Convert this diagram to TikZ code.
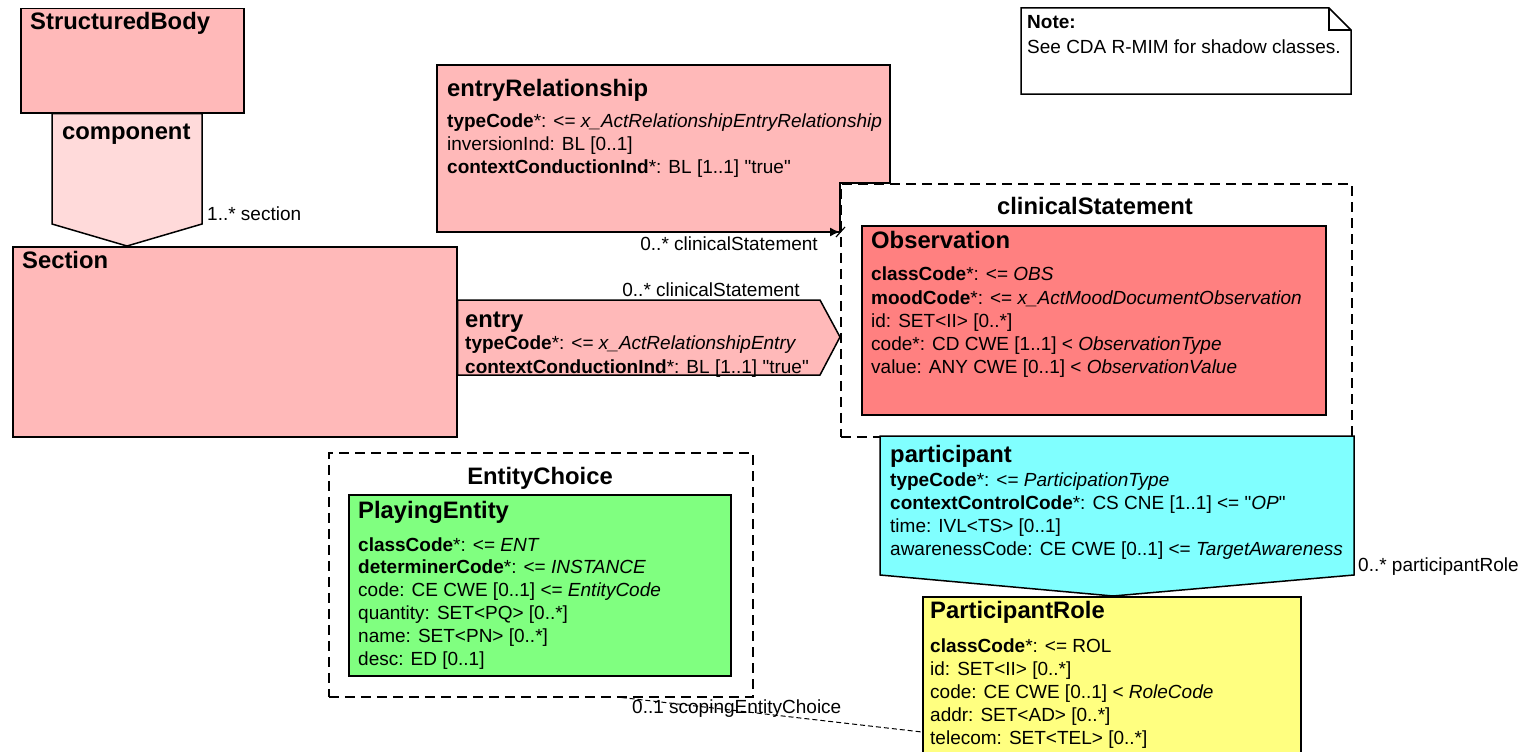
\documentclass[tikz,border=0pt]{standalone}
\usepackage{fontspec}
\setmainfont{Liberation Sans}[Ligatures=TeXOff]
\usetikzlibrary{calc,arrows.meta}

\definecolor{actpink}{RGB}{255,185,185}
\definecolor{relpink}{RGB}{255,218,218}
\definecolor{obsred}{RGB}{255,128,128}
\definecolor{partcyan}{RGB}{128,255,255}
\definecolor{roleyellow}{RGB}{255,255,128}
\definecolor{entgreen}{RGB}{128,255,128}

\newcommand{\dq}{\symbol{34}}

\tikzset{
  classbox/.style={draw, line width=1.5pt, rectangle, inner sep=0pt, anchor=north west},
  choicebox/.style={draw, line width=1.5pt, dash pattern=on 10pt off 6pt, rectangle, inner sep=0pt, anchor=north west},
  shapeline/.style={draw, line width=1.5pt, line join=miter},
  ttl/.style={anchor=base west, inner sep=0pt, font=\fontsize{23.8}{28}\selectfont\bfseries},
  ctitle/.style={anchor=base, inner sep=0pt, font=\fontsize{23.8}{28}\selectfont\bfseries},
  txt/.style={anchor=base west, inner sep=0pt, font=\fontsize{19}{23}\selectfont},
  rtxt/.style={anchor=base east, inner sep=0pt, font=\fontsize{19}{23}\selectfont},
}

\begin{document}
\begin{tikzpicture}[x=1pt,y=-1pt]
\useasboundingbox (0,0) rectangle (1521,752);

% ---------- StructuredBody and its component relationship ----------
\node[classbox, fill=actpink, minimum width=223pt, minimum height=104pt] (sb) at (20,8) {};
\node[ttl] (sbt) at (30,30) {StructuredBody};

\node[classbox, fill=actpink, minimum width=444pt, minimum height=190pt] (sec) at (12,246) {};
\node[ttl] (sect) at (22,268) {Section};

\coordinate (cmpTL) at ($(sb.south west)+(32,0)$);
\coordinate (cmpTR) at ($(sb.south west)+(182,0)$);
\coordinate (cmpTip) at ($(sec.north west)+(115,0)$);
\path[shapeline, fill=relpink] (cmpTL) -- (cmpTR) -- (202,224) -- (cmpTip) -- (52,224) -- cycle;
\node[ttl] (cmpt) at (62,139) {component};
\node[txt] (cmpm) at (207,220) {1..* section};

% ---------- entryRelationship (recursive, to clinicalStatement) ----------
\node[choicebox, minimum width=511pt, minimum height=253pt] (cs) at (840,183) {};
\node[ctitle] (cst) at (1095,214) {clinicalStatement};

\path[shapeline, fill=actpink] (437,65) -- (890,65) -- (890,183) -- (cs.north west) -- (840,232) -- (437,232) -- cycle;
\coordinate (erEnd) at (cs.west |- 0,232);
\draw[line width=1.5pt, -{Latex[length=10pt,width=9pt]}] (800,232) -- (erEnd);
\draw[line width=1.2pt] ($(erEnd)+(-4,5)$) -- ($(erEnd)+(5,-5)$);
\node[ttl] (ert) at (447,96) {entryRelationship};
\node[txt] (er1) at (447,127) {\textbf{typeCode}*: <= \textit{x\_ActRelationshipEntryRelationship}};
\node[txt] (er2) at (447,150) {inversionInd: BL [0..1]};
\node[txt] (er3) at (447,173) {\textbf{contextConductionInd}*: BL [1..1] \dq true\dq};
\node[rtxt] (erm) at (818,250) {0..* clinicalStatement};

% ---------- entry ----------
\coordinate (enTip) at (cs.west |- 0,337);
\path[shapeline, fill=actpink] (sec.east |- 0,300) -- (820,300) -- (enTip) -- (820,375) -- (sec.east |- 0,375) -- cycle;
\node[ttl] (ent) at (465,327) {entry};
\node[txt] (en1) at (465,349) {\textbf{typeCode}*: <= \textit{x\_ActRelationshipEntry}};
\node[txt] (en2) at (465,373) {\textbf{contextConductionInd}*: BL [1..1] \dq true\dq};
\node[rtxt] (enm) at (800,296) {0..* clinicalStatement};

% ---------- Observation ----------
\node[classbox, fill=obsred, minimum width=464pt, minimum height=189pt] (obs) at (861,225) {};
\node[ttl] (obst) at (871,248) {Observation};
\node[txt] (ob1) at (871,280) {\textbf{classCode}*: <= \textit{OBS}};
\node[txt] (ob2) at (871,304) {\textbf{moodCode}*: <= \textit{x\_ActMoodDocumentObservation}};
\node[txt] (ob3) at (871,327) {id: SET<II> [0..*]};
\node[txt] (ob4) at (871,350) {code*: CD CWE [1..1] < \textit{ObservationType}};
\node[txt] (ob5) at (871,373) {value: ANY CWE [0..1] < \textit{ObservationValue}};

% ---------- ParticipantRole ----------
\node[classbox, fill=roleyellow, minimum width=378pt, minimum height=170pt] (pr) at (922,596) {};
\node[ttl] (prt) at (930,618) {ParticipantRole};
\node[txt] (pr1) at (930,652) {\textbf{classCode}*: <= ROL};
\node[txt] (pr2) at (930,675) {id: SET<II> [0..*]};
\node[txt] (pr3) at (930,698) {code: CE CWE [0..1] < \textit{RoleCode}};
\node[txt] (pr4) at (930,721) {addr: SET<AD> [0..*]};
\node[txt] (pr5) at (930,744) {telecom: SET<TEL> [0..*]};

% ---------- participant ----------
\coordinate (ptTip) at (1113,596);
\path[shapeline, fill=partcyan] (880,436) -- (1354,436) -- (1354,575) -- (ptTip) -- (880,575) -- cycle;
\node[ttl] (ptt) at (890,462) {participant};
\node[txt] (pt1) at (890,486) {\textbf{typeCode}*: <= \textit{ParticipationType}};
\node[txt] (pt2) at (890,509) {\textbf{contextControlCode}*: CS CNE [1..1] <= \dq\textit{OP}\dq};
\node[txt] (pt3) at (890,532) {time: IVL<TS> [0..1]};
\node[txt] (pt4) at (890,555) {awarenessCode: CE CWE [0..1] <= \textit{TargetAwareness}};
\node[txt] (ptm) at (1358,571) {0..* participantRole};

% ---------- EntityChoice / PlayingEntity ----------
\node[choicebox, minimum width=424pt, minimum height=244pt] (ec) at (328,452) {};
\node[ctitle] (ect) at (540,484) {EntityChoice};
\node[classbox, fill=entgreen, minimum width=382pt, minimum height=181pt] (pe) at (348,494) {};
\node[ttl] (pet) at (358,518) {PlayingEntity};
\node[txt] (pe1) at (358,551) {\textbf{classCode}*: <= \textit{ENT}};
\node[txt] (pe2) at (358,573) {\textbf{determinerCode}*: <= \textit{INSTANCE}};
\node[txt] (pe3) at (358,596) {code: CE CWE [0..1] <= \textit{EntityCode}};
\node[txt] (pe4) at (358,619) {quantity: SET<PQ> [0..*]};
\node[txt] (pe5) at (358,642) {name: SET<PN> [0..*]};
\node[txt] (pe6) at (358,665) {desc: ED [0..1]};

% scopingEntityChoice association
\coordinate (scA) at ($(ec.south west)!0.69!(ec.south east)$);
\coordinate (scB) at (pr.west |- 0,732);
\draw[line width=1pt, dash pattern=on 5pt off 3pt] (scA) -- (scB);
\node[txt] (scm) at (632,713) {0..1 scopingEntityChoice};

% ---------- Note ----------
\path[shapeline, fill=white] (1021,8) -- (1329,8) -- (1351,30) -- (1351,94) -- (1021,94) -- cycle;
\draw[line width=1.5pt] (1329,8) -- (1329,30) -- (1351,30);
\node[txt, font=\fontsize{19}{23}\selectfont\bfseries] (nt) at (1027,29) {Note:};
\node[txt] (nb) at (1027,54) {See CDA R-MIM for shadow classes.};
\end{tikzpicture}
\end{document}
